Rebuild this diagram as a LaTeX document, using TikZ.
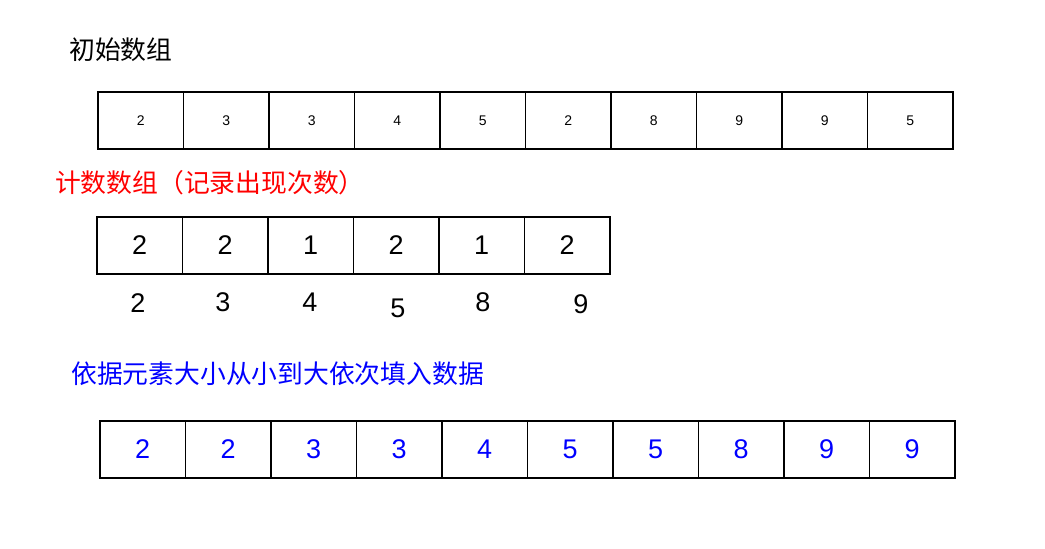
\documentclass[tikz,border=0pt]{standalone}
\usepackage{fontspec}
\setmainfont{Liberation Sans}
\newfontfamily\cjk{Noto Sans CJK SC}
\definecolor{cntred}{RGB}{255,0,0}
\definecolor{fillblue}{RGB}{0,0,255}
\begin{document}
\begin{tikzpicture}[x=1pt,y=-1pt,
    cell/.style={shape=rectangle,draw=black,line width=1.1pt,minimum width=85.5pt,minimum height=57pt,inner sep=0pt},
    small/.style={font=\fontsize{14}{16}\selectfont},
    big/.style={font=\fontsize{27}{30}\selectfont},
    title/.style={anchor=west,inner sep=0pt,font=\cjk\fontsize{25.8}{28}\selectfont}]
    \useasboundingbox (0,0) rectangle (1045,549);

    % original array
    \node[title] (t1) at (69,50) {初始数组};
    \node[cell,small] (a1) at (140.75,120.5) {2};
    \node[cell,small] (a2) at (226.25,120.5) {3};
    \node[cell,small] (a3) at (311.75,120.5) {3};
    \node[cell,small] (a4) at (397.25,120.5) {4};
    \node[cell,small] (a5) at (482.75,120.5) {5};
    \node[cell,small] (a6) at (568.25,120.5) {2};
    \node[cell,small] (a7) at (653.75,120.5) {8};
    \node[cell,small] (a8) at (739.25,120.5) {9};
    \node[cell,small] (a9) at (824.75,120.5) {9};
    \node[cell,small] (a10) at (910.25,120.5) {5};

    % count array
    \node[title,text=cntred] (t2) at (55,183) {计数数组（记录出现次数）};
    \node[cell,big] (c1) at (139.75,245.5) {2};
    \node[cell,big] (c2) at (225.25,245.5) {2};
    \node[cell,big] (c3) at (310.75,245.5) {1};
    \node[cell,big] (c4) at (396.25,245.5) {2};
    \node[cell,big] (c5) at (481.75,245.5) {1};
    \node[cell,big] (c6) at (567.25,245.5) {2};

    \node[big] (k1) at (138,303) {2};
    \node[big] (k2) at (223,302) {3};
    \node[big] (k3) at (310,302) {4};
    \node[big] (k4) at (398,308) {5};
    \node[big] (k5) at (483,302) {8};
    \node[big] (k6) at (581,304) {9};

    % sorted output
    \node[title,text=fillblue] (t3) at (71,374) {依据元素大小从小到大依次填入数据};
    \node[cell,big,text=fillblue] (s1) at (142.75,449.5) {2};
    \node[cell,big,text=fillblue] (s2) at (228.25,449.5) {2};
    \node[cell,big,text=fillblue] (s3) at (313.75,449.5) {3};
    \node[cell,big,text=fillblue] (s4) at (399.25,449.5) {3};
    \node[cell,big,text=fillblue] (s5) at (484.75,449.5) {4};
    \node[cell,big,text=fillblue] (s6) at (570.25,449.5) {5};
    \node[cell,big,text=fillblue] (s7) at (655.75,449.5) {5};
    \node[cell,big,text=fillblue] (s8) at (741.25,449.5) {8};
    \node[cell,big,text=fillblue] (s9) at (826.75,449.5) {9};
    \node[cell,big,text=fillblue] (s10) at (912.25,449.5) {9};
\end{tikzpicture}
\end{document}
